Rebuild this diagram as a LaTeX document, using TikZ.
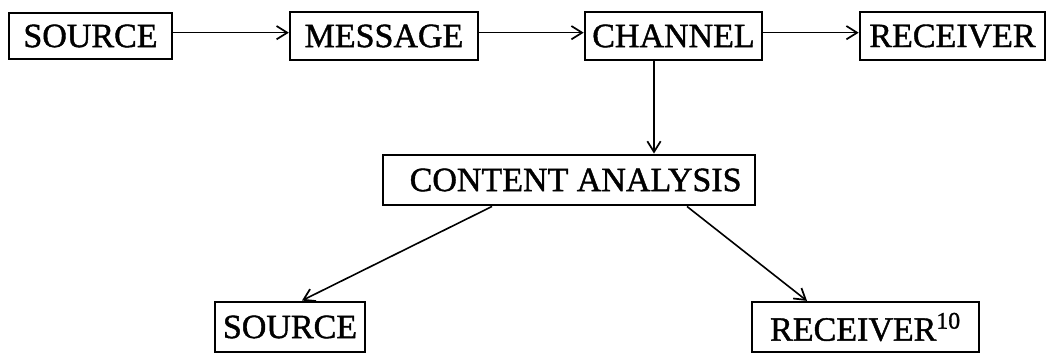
\documentclass[tikz,border=0pt]{standalone}
\usepackage{fontspec}
\setmainfont[FakeBold=1.2]{Liberation Serif}
\usetikzlibrary{arrows.meta}
\tikzset{
  box/.style={draw, line width=1.7pt, inner sep=0pt, anchor=center,
    font=\fontsize{25.5}{30}\selectfont},
  conn/.style={line width=1.2pt, -{Straight Barb[length=8pt,width=10pt,line width=1.3pt]}}
}
\begin{document}
\begin{tikzpicture}[x=0.75pt,y=-0.75pt]
  \useasboundingbox (0,0) rectangle (1051,354);
  % top row: the communication chain
  \node[box, minimum width=122pt, minimum height=34.5pt] (src) at (90.5,36) {SOURCE};
  \node[box, minimum width=141pt, minimum height=36pt] (msg) at (384,36) {MESSAGE};
  \node[box, minimum width=133pt, minimum height=36pt] (chn) at (673.5,36) {CHANNEL};
  \node[box, minimum width=139pt, minimum height=36pt] (rcv) at (952.5,36) {RECEIVER};
  % analysis box
  \node[box, minimum width=279pt, minimum height=38pt] (ca) at (569,180)
    {\hspace{10pt}CONTENT ANALYSIS};
  % bottom row
  \node[box, minimum width=113pt, minimum height=38pt] (src2) at (290,327) {SOURCE};
  \node[box, minimum width=170pt, minimum height=37.5pt] (rcv2) at (865.5,327)
    {RECEIVER\textsuperscript{10}};
  % attachment points of the connectors
  \coordinate (vx) at (654,0);
  \coordinate (la) at (492,0);
  \coordinate (lb) at (302,0);
  \coordinate (ra) at (687,0);
  \coordinate (rb) at (807,0);
  % connectors
  \draw[conn] ([yshift=2.5pt]src.east) -- ([yshift=2.5pt]msg.west);
  \draw[conn] ([yshift=2.5pt]msg.east) -- ([yshift=2.5pt]chn.west);
  \draw[conn] ([yshift=2.5pt]chn.east) -- ([yshift=2.5pt]rcv.west);
  \draw[conn] (chn.south -| vx) -- (ca.north -| vx);
  \draw[conn] (ca.south -| la) -- (src2.north -| lb);
  \draw[conn] (ca.south -| ra) -- (rcv2.north -| rb);
\end{tikzpicture}
\end{document}
